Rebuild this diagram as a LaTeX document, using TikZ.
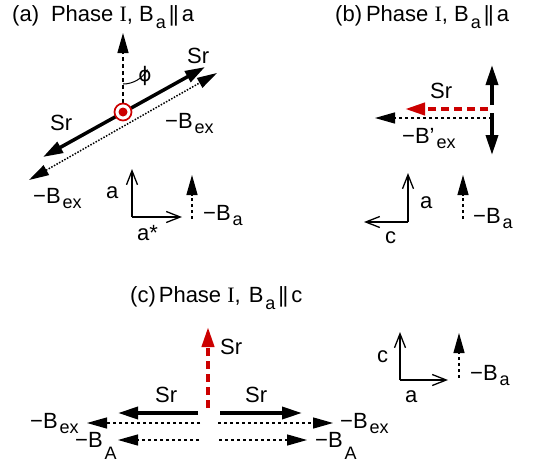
\documentclass[tikz,border=0pt]{standalone}
\usepackage{fontspec}
\setmainfont{Liberation Sans}
\newfontfamily\romanfont{Liberation Serif}
\newfontfamily\symfont{DejaVu Sans}
\usetikzlibrary{arrows.meta}
\definecolor{SrRed}{HTML}{CC0000}
\newcommand{\lowsub}[2][5pt]{\kern2pt\raisebox{-#1}{\fontsize{18}{18}\selectfont #2}}
\newcommand{\phaseI}{Phase {\romanfont I},}
\newcommand{\parl}{\kern3pt|\kern-1.5pt|\kern3pt}

\tikzset{
  lbl/.style={anchor=base west, inner sep=0pt, font=\fontsize{22}{22}\selectfont},
  spin/.style={line width=3.5pt, -{Triangle[length=20pt,width=12pt]}},
  fieldarrow/.style={line width=1.3pt, dash pattern=on 3pt off 3pt, -{Triangle[length=20pt,width=11pt]}},
  redspin/.style={SrRed, line width=4pt, dash pattern=on 8pt off 5pt, -{Triangle[length=20pt,width=12pt]}},
  axisarrow/.style={line width=1.3pt, -{Straight Barb[length=14pt,width=11pt]}}
}

\begin{document}
\begin{tikzpicture}[x=1pt, y=-1pt]
  \useasboundingbox (0,0) rectangle (538,466);
  % ---------------- (a)
  \node[lbl] (titleA) at (12,21) {(a)\kern12pt\phaseI\ B\lowsub[7pt]{a}\parl a};
  \coordinate (O) at (123,112);
  % a axis and angle phi
  \draw[line width=1.3pt, dash pattern=on 4pt off 3pt, -{Triangle[length=20pt,width=11pt]}] (123,103) -- (123,33);
  \draw[line width=1pt] (123,84) arc[start angle=90, end angle=29, radius=28];
  \node[inner sep=0pt] (phi) at (145,76) {\fontsize{20}{20}\symfont ϕ};
  % -B_ex (dotted)
  \draw[line width=1.5pt, dash pattern=on 1.5pt off 1.5pt, {Triangle[length=20pt,width=11pt]}-{Triangle[length=20pt,width=11pt]}] (29,180) -- (217,73);
  % Sr moments
  \draw[line width=3.5pt, {Triangle[length=20pt,width=12pt]}-{Triangle[length=20pt,width=12pt]}] (43,157) -- (205,67);
  \draw[SrRed, line width=1.7pt, fill=white] (O) circle (8.5);
  \fill[SrRed] (O) circle (4.5);
  \node[lbl] (srA1) at (187,63) {Sr};
  \node[lbl] (srA2) at (50,130) {Sr};
  \node[lbl] (bexA1) at (165,128) {−B\lowsub{ex}};
  \node[lbl] (bexA2) at (33,203) {−B\lowsub{ex}};
  % axes
  \coordinate (oA) at (132,217);
  \draw[axisarrow] (oA) -- (132,169);
  \draw[axisarrow] (oA) -- (182,217);
  \node[lbl] (aA) at (106,198) {a};
  \node[lbl] (asA) at (137,240) {a*};
  \draw[fieldarrow] (192,219) -- (192,175);
  \node[lbl] (baA) at (203,220) {−B\lowsub{a}};

  % ---------------- (b)
  \node[lbl] (titleB) at (335,21) {(b)\kern4pt\phaseI\ B\lowsub[7pt]{a}\parl a};
  \draw[spin] (492,105) -- (492,65);
  \draw[spin] (492,113) -- (492,155);
  \draw[redspin] (488,109) -- (405,109);
  \draw[fieldarrow] (492,118) -- (375,118);
  \node[lbl] (srB) at (430,98) {Sr};
  \node[lbl] (bexB) at (402,143) {−B’\lowsub{ex}};
  % axes
  \coordinate (oB) at (408,222);
  \draw[axisarrow] (oB) -- (408,173);
  \draw[axisarrow] (oB) -- (364,222);
  \node[lbl] (aB) at (420,208) {a};
  \node[lbl] (cB) at (385,243) {c};
  \draw[fieldarrow] (463,219) -- (463,175);
  \node[lbl] (baB) at (473,223) {−B\lowsub{a}};

  % ---------------- (c)
  \node[lbl] (titleC) at (130,302) {(c)\kern3pt\phaseI\kern8pt B\lowsub[7pt]{a}\parl c};
  \draw[redspin] (208,408) -- (208,327);
  \node[lbl] (srC0) at (220,354) {Sr};
  \draw[spin] (198,413) -- (118,413);
  \draw[spin] (220,413) -- (302,413);
  \node[lbl] (srC1) at (155,402) {Sr};
  \node[lbl] (srC2) at (245,402) {Sr};
  \draw[fieldarrow] (200,423) -- (87,423);
  \draw[fieldarrow] (218,423) -- (333,423);
  \draw[fieldarrow] (199,440) -- (118,440);
  \draw[fieldarrow] (219,440) -- (307,440);
  \node[lbl] (bexC1) at (30,428) {−B\lowsub{ex}};
  \node[lbl] (bexC2) at (340,428) {−B\lowsub{ex}};
  \node[lbl] (bAC1) at (75,447) {−B\lowsub[12pt]{A}};
  \node[lbl] (bAC2) at (315,447) {−B\lowsub[12pt]{A}};
  % axes
  \coordinate (oC) at (400,380);
  \draw[axisarrow] (oC) -- (400,332);
  \draw[axisarrow] (oC) -- (448,380);
  \node[lbl] (cC) at (377,362) {c};
  \node[lbl] (aC) at (405,402) {a};
  \draw[fieldarrow] (459,378) -- (459,333);
  \node[lbl] (baC) at (470,380) {−B\lowsub{a}};
\end{tikzpicture}
\end{document}
